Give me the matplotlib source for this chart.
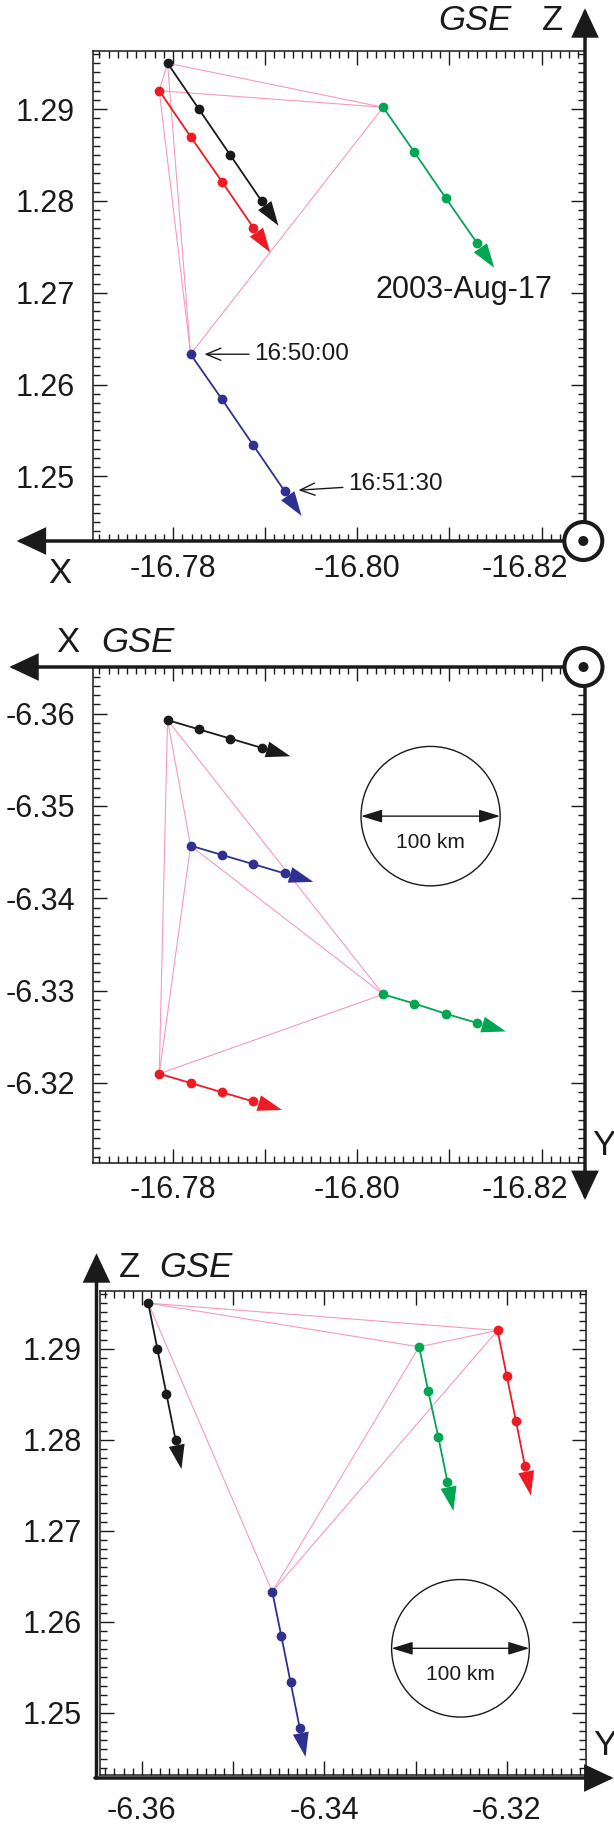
import itertools
import numpy as np
import matplotlib
matplotlib.use("Agg")
import matplotlib.pyplot as plt
from matplotlib.patches import Circle, FancyArrowPatch
from matplotlib.ticker import MultipleLocator, FuncFormatter
from matplotlib.transforms import ScaledTranslation

plt.rcParams['font.family'] = ['Liberation Sans', 'DejaVu Sans']

# Cluster positions (RE, GSE), every 30 s from 16:50:00 to 16:51:30
times = ['16:50:00', '16:50:30', '16:51:00', '16:51:30']
black_x = [-16.7794, -16.7828, -16.7862, -16.7896]
black_y = [-6.3593, -6.3583, -6.3573, -6.3563]
black_z = [1.2950, 1.2900, 1.2850, 1.2800]
red_x = [-16.7785, -16.7819, -16.7853, -16.7887]
red_y = [-6.3210, -6.3200, -6.3190, -6.3180]
red_z = [1.2920, 1.2870, 1.2821, 1.2771]
green_x = [-16.8028, -16.8062, -16.8096, -16.8130]
green_y = [-6.3296, -6.3286, -6.3275, -6.3265]
green_z = [1.2902, 1.2853, 1.2803, 1.2754]
blue_x = [-16.7819, -16.7853, -16.7887, -16.7921]
blue_y = [-6.3457, -6.3447, -6.3437, -6.3427]
blue_z = [1.2633, 1.2584, 1.2534, 1.2484]

x_labeled = [-16.78, -16.80, -16.82]
y_labeled = [-6.36, -6.34, -6.32]
scale_km = 100
scale_diam = 0.0151   # 100 km in RE on this plot
date_text = '2003-Aug-17'

sc = {
    'black': ('#1a1a1a', black_x, black_y, black_z),
    'red': ('#ed1c24', red_x, red_y, red_z),
    'green': ('#00a651', green_x, green_y, green_z),
    'blue': ('#2e3192', blue_x, blue_y, blue_z),
}
PINK = '#f49ac1'

W, H = 614, 1825
fig = plt.figure(figsize=(W / 100, H / 100), dpi=100)


def px_axes(left, top, right, bottom):
    return fig.add_axes([left / W, 1 - bottom / H, (right - left) / W, (bottom - top) / H])


def fpos(x, y):
    return (x / W, 1 - y / H)


def style_axes(ax, xlabeled, ylab_pad, xlab_pad):
    ax.xaxis.set_major_locator(MultipleLocator(0.01))
    ax.xaxis.set_minor_locator(MultipleLocator(0.001))
    ax.yaxis.set_major_locator(MultipleLocator(0.01))
    ax.yaxis.set_minor_locator(MultipleLocator(0.001))

    def xfmt(v, pos):
        for lv in xlabeled:
            if abs(v - lv) < 1e-6:
                return '%.2f' % lv
        return ''
    ax.xaxis.set_major_formatter(FuncFormatter(xfmt))
    ax.yaxis.set_major_formatter(FuncFormatter(lambda v, p: '%.2f' % v))
    ax.tick_params(which='both', direction='in', top=True, right=True,
                   labelsize=22, width=1.0, color='#1a1a1a', labelcolor='#1a1a1a')
    ax.tick_params(which='major', length=10)
    ax.tick_params(which='minor', length=5)
    ax.tick_params(axis='y', pad=ylab_pad)
    ax.tick_params(axis='x', pad=xlab_pad)
    for s in ax.spines.values():
        s.set_linewidth(1.1)
        s.set_color('#1a1a1a')


def draw_tracks(ax, idx_h, idx_v):
    firsts = []
    for name, (col, xs, ys, zs) in sc.items():
        comps = [xs, ys, zs]
        h, v = comps[idx_h], comps[idx_v]
        firsts.append((h[0], v[0]))
    for a, b in itertools.combinations(firsts, 2):
        ax.plot([a[0], b[0]], [a[1], b[1]], color=PINK, lw=0.8, zorder=2)
    for name, (col, xs, ys, zs) in sc.items():
        comps = [xs, ys, zs]
        h, v = comps[idx_h], comps[idx_v]
        ax.plot(h, v, color=col, lw=1.3, marker='o', ms=6, zorder=3)


def track_arrows(ax, idx_h, idx_v):
    # filled head just past the last position, along the direction of motion
    for name, (col, xs, ys, zs) in sc.items():
        comps = [xs, ys, zs]
        h, v = comps[idx_h], comps[idx_v]
        p1 = ax.transData.transform((h[-2], v[-2]))
        p2 = ax.transData.transform((h[-1], v[-1]))
        d = p2 - p1
        d = d / np.hypot(*d)
        off = d * 30 * 72 / fig.dpi
        ax.annotate('', xy=(h[-1], v[-1]), xytext=(off[0], off[1]),
                    textcoords='offset points',
                    arrowprops=dict(arrowstyle='<|-,head_length=1.75,head_width=0.58',
                                    mutation_scale=10, fc=col, ec='none', lw=0,
                                    shrinkA=0, shrinkB=0), zorder=3)


def scale_circle(ax, cx, cy):
    r = scale_diam / 2
    ax.add_patch(Circle((cx, cy), r, fill=False, ec='#1a1a1a', lw=1.0, zorder=4))
    ax.annotate('', xy=(cx - r, cy), xytext=(cx + r, cy),
                arrowprops=dict(arrowstyle='<|-|>,head_length=1.3,head_width=0.4',
                                mutation_scale=10, color='#1a1a1a', lw=1.0,
                                shrinkA=0, shrinkB=0))
    ax.annotate('%d km' % scale_km, xy=(cx, cy), xytext=(0, -19), textcoords='offset points',
                ha='center', va='center', fontsize=15, color='#1a1a1a')


def big_arrow(x0, y0, x1, y1):
    fig.add_artist(FancyArrowPatch(fpos(x0, y0), fpos(x1, y1), transform=fig.transFigure,
                                   arrowstyle='-|>,head_length=1.7,head_width=0.8',
                                   mutation_scale=10, color='#1a1a1a', lw=2.5,
                                   shrinkA=0, shrinkB=0, joinstyle='miter', zorder=5))


def circle_dot(x, y):
    tr = fig.dpi_scale_trans
    cxy = (x / 100, (H - y) / 100)
    fig.add_artist(Circle(cxy, 0.19, transform=tr, fc='white', ec='#1a1a1a', lw=2.9, zorder=6))
    fig.add_artist(Circle(cxy, 0.05, transform=tr, fc='#1a1a1a', ec='none', zorder=7))


def flabel(x, y, s, italic=False, ha='center'):
    fig.text(x / W, 1 - y / H, s, fontsize=25, ha=ha, va='baseline',
             style='italic' if italic else 'normal', color='#1a1a1a')


# ---------------- panel 1: X-Z ----------------
ax1 = px_axes(93.3, 50.5, 585, 541)
draw_tracks(ax1, 0, 2)
ax1.set_xlim(-16.77134, -16.82471)
ax1.set_ylim(1.24296, 1.29638)
style_axes(ax1, x_labeled, 13, 9.5)
ax1.spines['bottom'].set_visible(False)
ax1.spines['right'].set_visible(False)
ax1.text(-16.8116, 1.27035, date_text, fontsize=22, ha='center', va='center', color='#1a1a1a')
ax1.annotate(times[0], xy=(blue_x[0], blue_z[0]), xytext=(46, 0), textcoords='offset points',
             ha='left', va='center', fontsize=17.5, color='#1a1a1a',
             arrowprops=dict(arrowstyle='->,head_length=0.6,head_width=0.25', color='#1a1a1a',
                             lw=1.0, shrinkA=2, shrinkB=10))
ax1.annotate(times[3], xy=(blue_x[3], blue_z[3]), xytext=(46, 5), textcoords='offset points',
             ha='left', va='center', fontsize=17.5, color='#1a1a1a',
             arrowprops=dict(arrowstyle='->,head_length=0.6,head_width=0.25', color='#1a1a1a',
                             lw=1.0, shrinkA=2, shrinkB=10))
track_arrows(ax1, 0, 2)
big_arrow(583, 541, 16.7, 541)
big_arrow(585, 541, 585, 8.3)
circle_dot(583.3, 541)
flabel(60, 583, 'X')
flabel(475, 30, 'GSE', italic=True)
flabel(552.5, 30, 'Z')

# ---------------- panel 2: X-Y ----------------
ax2 = px_axes(93.3, 667, 585, 1162.5)
draw_tracks(ax2, 0, 1)
ax2.set_xlim(-16.77134, -16.82471)
ax2.set_ylim(-6.31139, -6.36505)
style_axes(ax2, x_labeled, 13, 9)
ax2.spines['top'].set_visible(False)
ax2.spines['right'].set_visible(False)
scale_circle(ax2, -16.80795, -6.3489)
track_arrows(ax2, 0, 1)
big_arrow(583.5, 667, 9.3, 667)
big_arrow(585, 667, 585, 1200)
circle_dot(583.5, 667)
flabel(67.5, 651.7, 'X')
flabel(138, 651.7, 'GSE', italic=True)
flabel(592, 1155, 'Y', ha='left')

# ---------------- panel 3: Y-Z ----------------
ax3 = px_axes(99.5, 1291, 586, 1775)
draw_tracks(ax3, 1, 2)
ax3.set_xlim(-6.36464, -6.31131)
ax3.set_ylim(1.24319, 1.29633)
style_axes(ax3, y_labeled, 13, 15)
scale_circle(ax3, -6.32507, 1.2571)
track_arrows(ax3, 1, 2)
big_arrow(96.5, 1778, 96.5, 1253.3)
big_arrow(95, 1778, 613.5, 1778)
flabel(129, 1276.7, 'Z')
flabel(196, 1276.7, 'GSE', italic=True)
flabel(593, 1755, 'Y', ha='left')

# shift the -16.82 labels left, clear of the corner symbol
fig.canvas.draw()
for ax in (ax1, ax2):
    for tick in ax.xaxis.get_major_ticks():
        if abs(tick.get_loc() - (-16.82)) < 1e-6:
            lbl = tick.label1
            lbl.set_transform(lbl.get_transform() + ScaledTranslation(-0.17, 0, fig.dpi_scale_trans))

fig.savefig('out.png', dpi=100)
